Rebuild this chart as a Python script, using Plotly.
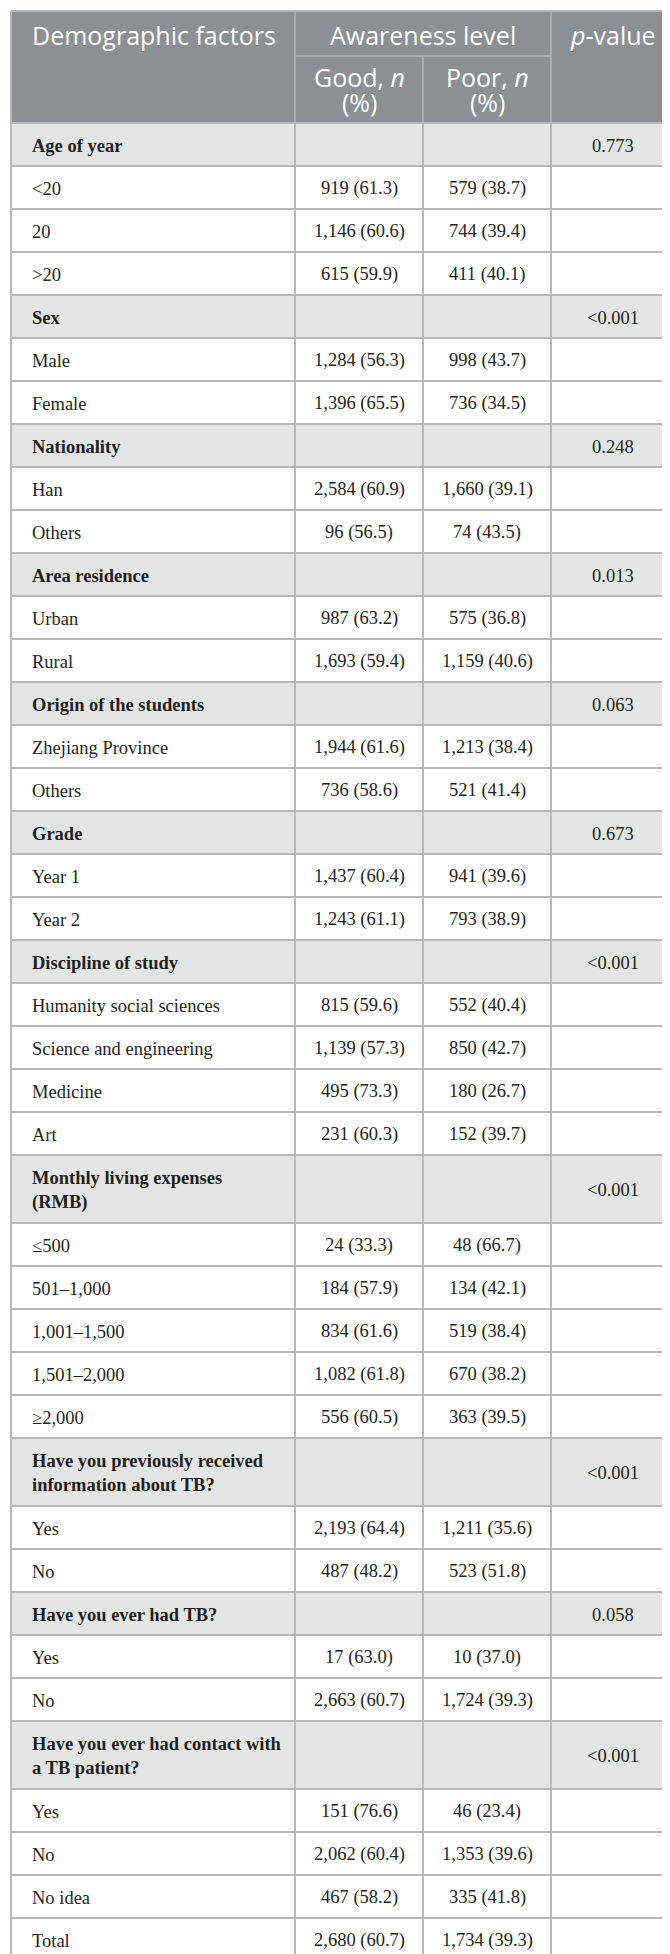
import plotly.graph_objects as go

# header text
col_header = "Demographic factors"
group_header = "Awareness level"
good_header = ["Good, <i>n</i>", "(%)"]
poor_header = ["Poor, <i>n</i>", "(%)"]
p_header = "<i>p</i>-value"

# factor (category) rows
factor_labels = [
    "Age of year", "Sex", "Nationality", "Area residence", "Origin of the students",
    "Grade", "Discipline of study", "Monthly living expenses<br>(RMB)",
    "Have you previously received<br>information about TB?", "Have you ever had TB?",
    "Have you ever had contact with<br>a TB patient?",
]
factor_p = ["0.773", "<0.001", "0.248", "0.013", "0.063", "0.673", "<0.001",
            "<0.001", "<0.001", "0.058", "<0.001"]

# level rows, with the index of the factor they belong to
level_labels = [
    "<20", "20", ">20",
    "Male", "Female",
    "Han", "Others",
    "Urban", "Rural",
    "Zhejiang Province", "Others",
    "Year 1", "Year 2",
    "Humanity social sciences", "Science and engineering", "Medicine", "Art",
    "≤500", "501–1,000", "1,001–1,500", "1,501–2,000", "≥2,000",
    "Yes", "No",
    "Yes", "No",
    "Yes", "No", "No idea",
]
level_factor = [0, 0, 0, 1, 1, 2, 2, 3, 3, 4, 4, 5, 5, 6, 6, 6, 6,
                7, 7, 7, 7, 7, 8, 8, 9, 9, 10, 10, 10]
good_n = [919, 1146, 615, 1284, 1396, 2584, 96, 987, 1693, 1944, 736, 1437, 1243,
          815, 1139, 495, 231, 24, 184, 834, 1082, 556, 2193, 487, 17, 2663,
          151, 2062, 467]
good_pct = [61.3, 60.6, 59.9, 56.3, 65.5, 60.9, 56.5, 63.2, 59.4, 61.6, 58.6, 60.4, 61.1,
            59.6, 57.3, 73.3, 60.3, 33.3, 57.9, 61.6, 61.8, 60.5, 64.4, 48.2, 63.0, 60.7,
            76.6, 60.4, 58.2]
poor_n = [579, 744, 411, 998, 736, 1660, 74, 575, 1159, 1213, 521, 941, 793,
          552, 850, 180, 152, 48, 134, 519, 670, 363, 1211, 523, 10, 1724,
          46, 1353, 335]
poor_pct = [38.7, 39.4, 40.1, 43.7, 34.5, 39.1, 43.5, 36.8, 40.6, 38.4, 41.4, 39.6, 38.9,
            40.4, 42.7, 26.7, 39.7, 66.7, 42.1, 38.4, 38.2, 39.5, 35.6, 51.8, 37.0, 39.3,
            23.4, 39.6, 41.8]

total_label = "Total"
total_good = (2680, 60.7)
total_poor = (1734, 39.3)

# ---- styling ----
W, H = 670, 1954
x_left, x_right = 3, 666
col_edges = [x_left, 287, 415, 543, x_right]
head_top, head_mid, head_bot = 3, 48, 115
row_h, line_h = 43, 25
pad = 19

head_fill = "#8a9093"
head_line = "#a6abad"
cat_fill = "#e3e5e4"
grid = "#b7b9b9"
body_font = "Liberation Serif"
head_font = "Open Sans"
text_col = "#231f20"


def fmt(n, pct):
    return f"{n:,} ({pct:.1f})"


# build the row list in display order
rows = []
for fi, lab in enumerate(factor_labels):
    rows.append(dict(label=f"<b>{lab}</b>", cells=["", "", factor_p[fi]], cat=True,
                     lines=lab.count("<br>") + 1))
    for li, f in enumerate(level_factor):
        if f == fi:
            rows.append(dict(label=level_labels[li],
                             cells=[fmt(good_n[li], good_pct[li]),
                                    fmt(poor_n[li], poor_pct[li]), ""],
                             cat=False, lines=1))
rows.append(dict(label=total_label, cells=[fmt(*total_good), fmt(*total_poor), ""],
                 cat=False, lines=1))

shapes = []
annotations = []


def hline(y, x0, x1, color=grid, w=2):
    shapes.append(dict(type="line", xref="x", yref="y", x0=x0, x1=x1, y0=y, y1=y,
                       line=dict(color=color, width=w)))


def vline(x, y0, y1, color=grid, w=2):
    shapes.append(dict(type="line", xref="x", yref="y", x0=x, x1=x, y0=y0, y1=y1,
                       line=dict(color=color, width=w)))


# header block
shapes.append(dict(type="rect", xref="x", yref="y", x0=x_left, x1=x_right,
                   y0=head_top, y1=head_bot, fillcolor=head_fill, line=dict(width=0),
                   layer="below"))
vline(col_edges[1], head_top, head_bot, head_line)
vline(col_edges[3], head_top, head_bot, head_line)
vline(col_edges[2], head_mid, head_bot, head_line)
hline(head_mid, col_edges[1], col_edges[3], head_line)

hf = dict(family=head_font, size=25, color="white")
y_h1 = 27
annotations.append(dict(x=x_left + pad, y=y_h1, text=col_header,
                        xanchor="left", yanchor="middle", font=hf))
annotations.append(dict(x=(col_edges[1] + col_edges[3]) / 2, y=y_h1,
                        text=group_header, xanchor="center", yanchor="middle", font=hf))
annotations.append(dict(x=(col_edges[3] + col_edges[4]) / 2, y=y_h1,
                        text=p_header, xanchor="center", yanchor="middle", font=hf))
for ci, parts in ((1, good_header), (2, poor_header)):
    cx = (col_edges[ci] + col_edges[ci + 1]) / 2
    for k, part in enumerate(parts):
        annotations.append(dict(x=cx, y=69 + 25 * k, text=part, xanchor="center",
                                yanchor="middle", font=hf))

# body rows
y = head_bot
bf = dict(family=body_font, size=18.5, color=text_col)
for r in rows:
    h = row_h + line_h * (r["lines"] - 1)
    if r["cat"]:
        shapes.append(dict(type="rect", xref="x", yref="y", x0=x_left, x1=x_right,
                           y0=y, y1=y + h, fillcolor=cat_fill, line=dict(width=0),
                           layer="below"))
    cy = y + h / 2 + 1
    annotations.append(dict(x=x_left + pad, y=cy, text=r["label"], xanchor="left",
                            yanchor="middle", align="left", font=bf))
    for ci, val in enumerate(r["cells"]):
        if val:
            cx = (col_edges[ci + 1] + col_edges[ci + 2]) / 2
            annotations.append(dict(x=cx, y=cy, text=val, xanchor="center",
                                    yanchor="middle", font=bf))
    y += h
    hline(y, x_left, x_right)
y_end = y

for xe in col_edges[1:-1]:
    vline(xe, head_bot, y_end)

# outer frame
vline(x_left, head_top, y_end)
vline(x_right, head_top, y_end)
hline(head_top, x_left, x_right)
hline(head_bot, x_left, x_right)

for a in annotations:
    a.update(xref="x", yref="y", showarrow=False)

fig = go.Figure()
fig.update_layout(
    width=W, height=H,
    margin=dict(l=0, r=0, t=0, b=0),
    paper_bgcolor="white", plot_bgcolor="white",
    xaxis=dict(range=[0, W], visible=False, fixedrange=True),
    yaxis=dict(range=[H, 0], visible=False, fixedrange=True),
    shapes=shapes, annotations=annotations,
    showlegend=False,
)

fig.write_html("out.html")
